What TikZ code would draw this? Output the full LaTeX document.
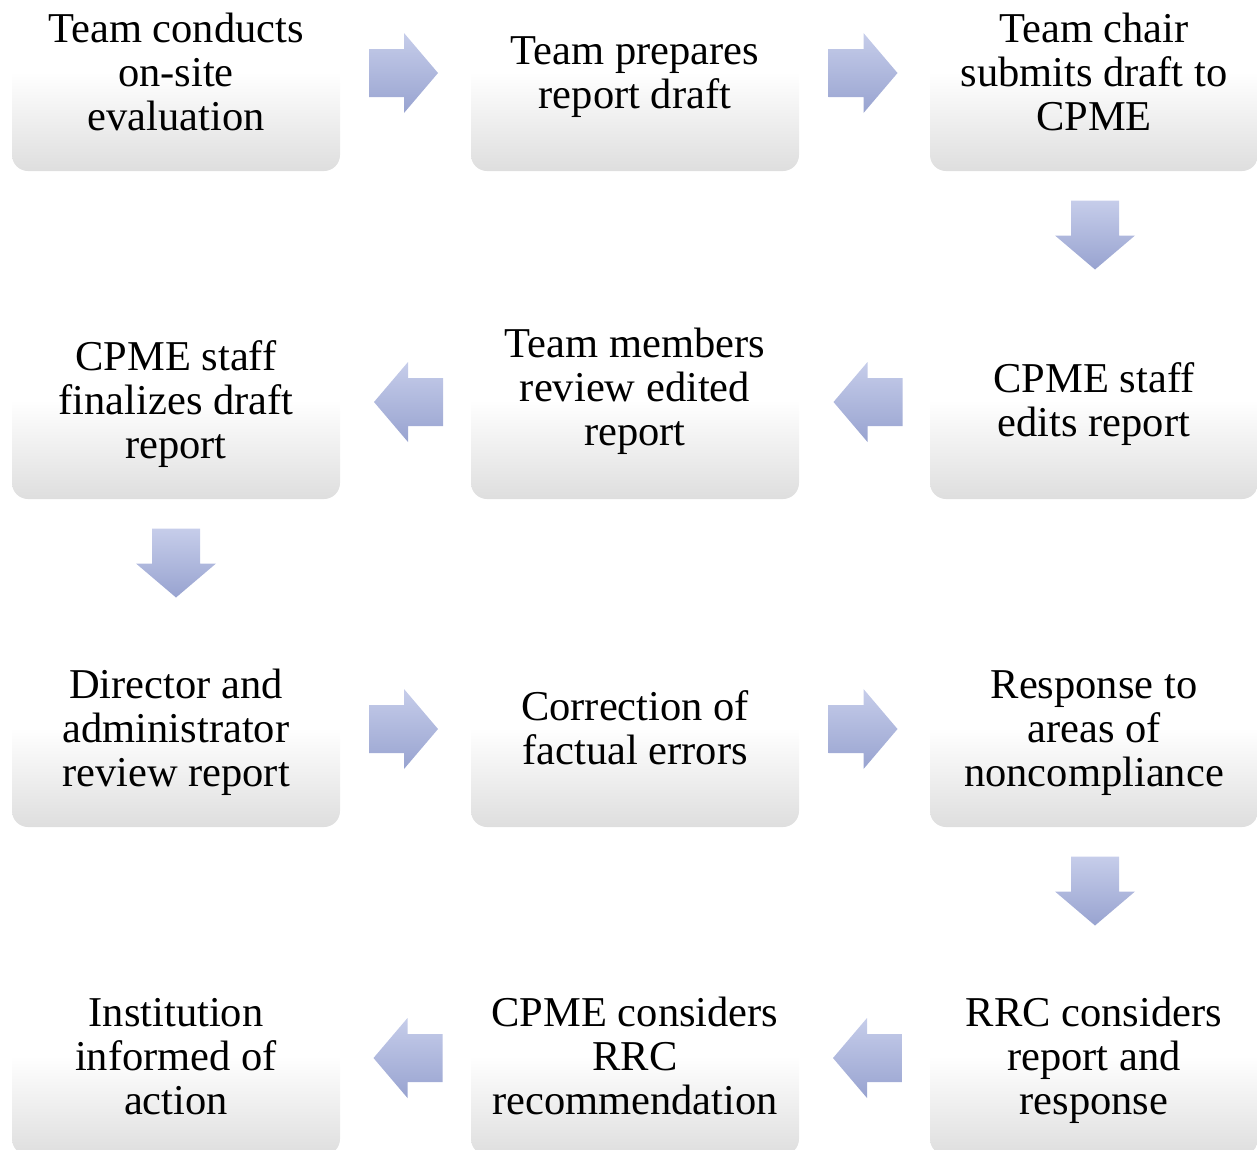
\documentclass[tikz,border=0pt]{standalone}
\usepackage{fontspec}
\setmainfont{Liberation Serif}
\pgfdeclareverticalshading{boxshade}{100bp}{color(0bp)=(black!13); color(25bp)=(black!13); color(50bp)=(white); color(100bp)=(white)}
\begin{document}
\begin{tikzpicture}[x=1pt,y=-1pt,
  box/.style={rectangle, rounded corners=16pt, minimum width=328pt, minimum height=198pt, inner sep=0pt,
    shading=boxshade},
  lbl/.style={align=center, inner sep=0pt, font=\fontsize{42.5}{44}\selectfont, yshift=-6pt},
  arrowfill/.style={top color={rgb,255:red,198;green,205;blue,234}, bottom color={rgb,255:red,152;green,163;blue,208}},
  rarr/.pic={\path[arrowfill] (-34.5,-24) -- (0.5,-24) -- (0.5,-40) -- (34.5,0) -- (0.5,40) -- (0.5,24) -- (-34.5,24) -- cycle;},
  larr/.pic={\path[arrowfill] (34.5,-24) -- (-0.5,-24) -- (-0.5,-40) -- (-34.5,0) -- (-0.5,40) -- (-0.5,24) -- (34.5,24) -- cycle;},
  darr/.pic={\path[arrowfill] (-24,-34.5) -- (-24,0.5) -- (-40,0.5) -- (0,34.5) -- (40,0.5) -- (24,0.5) -- (24,-34.5) -- cycle;}
]
\useasboundingbox (0,0) rectangle (1257,1149);
\begin{scope}
\clip (0,0) rectangle (1257,1149);
% boxes
\node[box] (b1) at (176,72) {};
\node[box] (b2) at (635,72) {};
\node[box] (b3) at (1094,72) {};
\node[box] (b4) at (1094,400) {};
\node[box] (b5) at (635,400) {};
\node[box] (b6) at (176,400) {};
\node[box] (b7) at (176,728) {};
\node[box] (b8) at (635,728) {};
\node[box] (b9) at (1094,728) {};
\node[box] (b10) at (1094,1056) {};
\node[box] (b11) at (635,1056) {};
\node[box] (b12) at (176,1056) {};
\end{scope}
% labels
\node[lbl] (t1) at (b1) {\strut Team conducts\\\strut on-site\\\strut evaluation};
\node[lbl] (t2) at (b2) {\strut Team prepares\\\strut report draft};
\node[lbl] (t3) at (b3) {\strut Team chair\\\strut submits draft to\\\strut CPME};
\node[lbl] (t4) at (b4) {\strut CPME staff\\\strut edits report};
\node[lbl] (t5) at ([yshift=13pt]b5.center) {\strut Team members\\\strut review edited\\\strut report};
\node[lbl] (t6) at (b6) {\strut CPME staff\\\strut finalizes draft\\\strut report};
\node[lbl] (t7) at (b7) {\strut Director and\\\strut administrator\\\strut review report};
\node[lbl] (t8) at (b8) {\strut Correction of\\\strut factual errors};
\node[lbl] (t9) at (b9) {\strut Response to\\\strut areas of\\\strut noncompliance};
\node[lbl] (t10) at (b10) {\strut RRC considers\\\strut report and\\\strut response};
\node[lbl] (t11) at (b11) {\strut CPME considers\\\strut RRC\\\strut recommendation};
\node[lbl] (t12) at (b12) {\strut Institution\\\strut informed of\\\strut action};
% arrows
\pic (a1) at (403.5,73) {rarr};
\pic (a2) at (863,73) {rarr};
\pic (a3) at (1095,235) {darr};
\pic (a4) at (868,402) {larr};
\pic (a5) at (408.5,402) {larr};
\pic (a6) at (176,563) {darr};
\pic (a7) at (403.5,729) {rarr};
\pic (a8) at (863,729) {rarr};
\pic (a9) at (1095,891) {darr};
\pic (a10) at (867.5,1058) {larr};
\pic (a11) at (408,1058) {larr};
\end{tikzpicture}
\end{document}
